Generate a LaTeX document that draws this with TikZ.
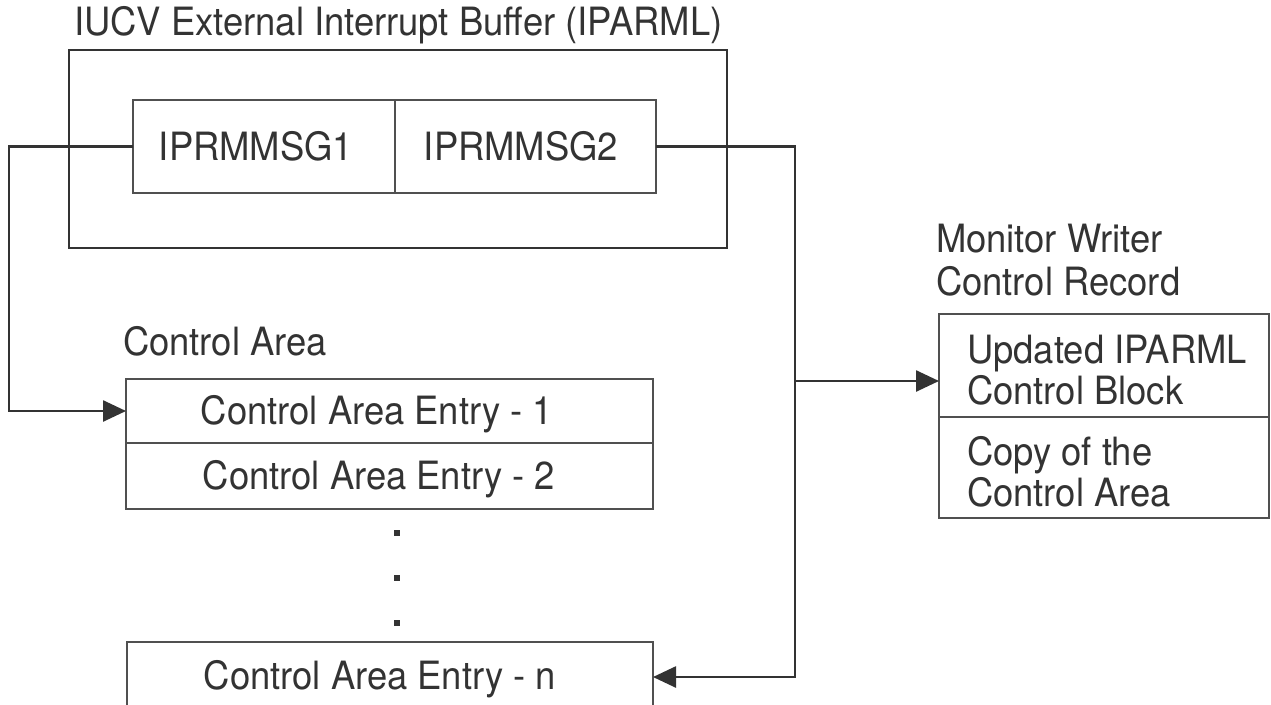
\documentclass[tikz,border=0pt]{standalone}
\usepackage{fontspec}
\usepackage{graphicx}
\setmainfont{TeX Gyre Heros}
\usetikzlibrary{arrows.meta}
\definecolor{ink}{HTML}{333333}
\definecolor{boxline}{HTML}{505050}
\newcommand{\tallt}[1]{\scalebox{1}[1.07]{#1}}
\begin{document}
\begin{tikzpicture}[x=1pt,y=-1pt,
  txt/.style={font=\fontsize{36.4}{40}\selectfont, text=ink, inner sep=0pt, outer sep=0pt},
  framebox/.style={draw=ink, line width=2.6pt, inner sep=0pt, outer sep=0pt, anchor=north west},
  cellbox/.style={draw=boxline, line width=1.8pt, inner sep=0pt, outer sep=0pt, anchor=north west},
  conn/.style={draw=ink, line width=2.6pt},
  arr/.style={conn, -{Triangle[length=23pt,width=21pt]}},
  dotmark/.style={fill=ink, inner sep=0pt, outer sep=0pt, minimum size=6pt}
]
\useasboundingbox[fill=white] (0,0) rectangle (1271,704);
\clip (0,0) rectangle (1271,704);

% IUCV buffer
\node[txt, anchor=base west] (title) at (74,35) {\tallt{IUCV External Interrupt Buffer (IPARML)}};
\node[framebox, minimum width=658pt, minimum height=198pt] (outer) at (69,50) {};
\node[cellbox, minimum width=262pt, minimum height=93pt] (msg1) at (133,100) {};
\node[cellbox, minimum width=261pt, minimum height=93pt] (msg2) at (395,100) {};
\node[txt, anchor=base] (msg1t) at (256,160) {\tallt{IPRMMSG1}};
\node[txt, anchor=base] (msg2t) at (521,160) {\tallt{IPRMMSG2}};

% Control area
\node[txt, anchor=base west] (calabel) at (123,355) {\tallt{Control Area}};
\node[cellbox, minimum width=527pt, minimum height=64pt] (entry1) at (126,379) {};
\node[cellbox, minimum width=527pt, minimum height=66pt] (entry2) at (126,443) {};
\node[txt, anchor=base] (e1t) at (377,424) {\tallt{Control Area Entry - 1}};
\node[txt, anchor=base] (e2t) at (379,489) {\tallt{Control Area Entry - 2}};
\node[dotmark] (dot1) at (397,533) {};
\node[dotmark] (dot2) at (397,578) {};
\node[dotmark] (dot3) at (397,623) {};
\node[cellbox, minimum width=526pt, minimum height=80pt] (entryn) at (127,642) {};
\node[txt, anchor=base] (ent) at (380,689) {\tallt{Control Area Entry - n}};

% Monitor writer control record
\node[txt, anchor=base west] (mwl1) at (936,252) {\tallt{Monitor Writer}};
\node[txt, anchor=base west] (mwl2) at (936,295) {\tallt{Control Record}};
\node[cellbox, minimum width=330pt, minimum height=103pt] (mon1) at (939,314) {};
\node[cellbox, minimum width=330pt, minimum height=101pt] (mon2) at (939,417) {};
\node[txt, anchor=base west] (m1a) at (967,363) {\tallt{Updated IPARML}};
\node[txt, anchor=base west] (m1b) at (967,404) {\tallt{Control Block}};
\node[txt, anchor=base west] (m2a) at (967,465) {\tallt{Copy of the}};
\node[txt, anchor=base west] (m2b) at (967,506) {\tallt{Control Area}};

% connectors
\draw[arr] (msg1.west) -- ++(-124,0) |- (entry1.west);
\draw[arr] (msg2.east) -- ++(139,0) |- (entryn.north east |- 0,677);
\coordinate (branch) at (795,381);
\draw[arr] (branch) -- (branch -| mon1.west);
\end{tikzpicture}
\end{document}
